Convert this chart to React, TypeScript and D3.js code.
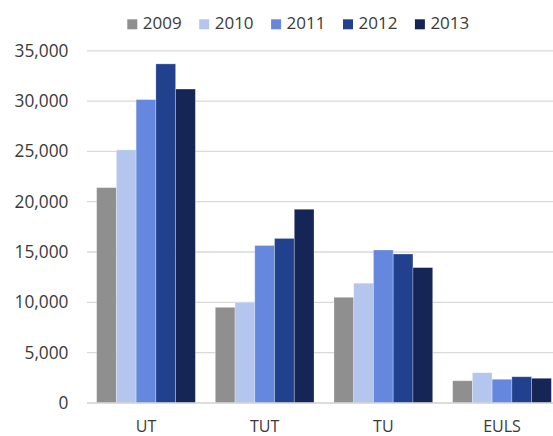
import React from "react";
import * as d3 from "d3";

const categories = ["UT", "TUT", "TU", "EULS"];
const years = ["2009", "2010", "2011", "2012", "2013"];
const values2009 = [21400, 9500, 10500, 2200];
const values2010 = [25150, 10000, 11900, 3000];
const values2011 = [30150, 15650, 15200, 2350];
const values2012 = [33700, 16350, 14800, 2600];
const values2013 = [31200, 19250, 13450, 2450];
const seriesValues = [values2009, values2010, values2011, values2012, values2013];
const colors = ["#8f8f8f", "#b4c5ee", "#6587dd", "#21408e", "#152656"];
const yTicks = [0, 5000, 10000, 15000, 20000, 25000, 30000, 35000];

const W = 553;
const H = 436;
const FONT = "'Open Sans', 'Noto Sans', sans-serif";
const TEXT = "#3a3a3a";

export default function App() {
  const x0 = d3
    .scaleBand<string>()
    .domain(categories)
    .range([86.67, 561.33])
    .paddingInner(0.168)
    .paddingOuter(0.084);
  const x1 = d3.scaleBand<string>().domain(years).range([0, x0.bandwidth()]).padding(0);
  const y = d3.scaleLinear().domain([0, 35000]).range([402.9, 50.8]);
  const fmt = d3.format(",");

  return (
    <svg
      width={W}
      height={H}
      style={{ position: "fixed", top: 0, left: 0, background: "#fff" }}
      fontFamily={FONT}
    >
      <rect x={0} y={0} width={W} height={H} fill="#fff" />
      {yTicks.map((t) => (
        <g key={t}>
          {t !== 0 && (
            <line x1={87} x2={561} y1={y(t)} y2={y(t)} stroke="#d9d9d9" strokeWidth={1.3} />
          )}
          <text x={68.5} y={y(t) + 6} textAnchor="end" fontSize={17.3} fill={TEXT}>
            {fmt(t)}
          </text>
        </g>
      ))}
      {categories.map((c, ci) => (
        <g key={c} transform={`translate(${x0(c)},0)`}>
          {years.map((yr, si) => {
            const v = seriesValues[si][ci];
            return (
              <rect
                key={yr}
                x={x1(yr)}
                y={y(v)}
                width={x1.bandwidth()}
                height={y(0) - y(v)}
                fill={colors[si]}
                stroke="#ffffff"
                strokeOpacity={0.35}
                strokeWidth={0.8}
              />
            );
          })}
          <text
            x={x0.bandwidth() / 2}
            y={432}
            textAnchor="middle"
            fontSize={16}
            fill={TEXT}
          >
            {c}
          </text>
        </g>
      ))}
      <line x1={87} x2={561} y1={y(0)} y2={y(0)} stroke="#d0d0d0" strokeWidth={1.5} />
      {years.map((yr, i) => {
        const lx = 127.3 + i * 71.9;
        return (
          <g key={yr}>
            <rect x={lx} y={19.3} width={10} height={10} fill={colors[i]} />
            <text x={lx + 15.5} y={29.3} fontSize={17} fill={TEXT}>
              {yr}
            </text>
          </g>
        );
      })}
    </svg>
  );
}
